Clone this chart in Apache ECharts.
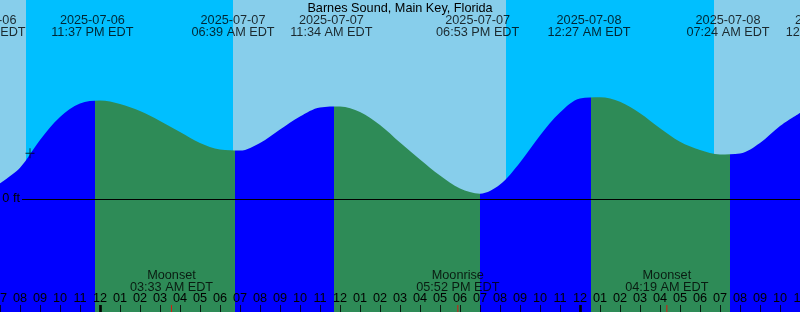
<!DOCTYPE html>
<html>
<head>
<meta charset="utf-8">
<script src="https://cdn.jsdelivr.net/npm/echarts@6/dist/echarts.min.js"></script>
<style>
html,body{margin:0;padding:0;background:#87CEEB;}
#chart{width:800px;height:312px;}
</style>
</head>
<body>
<div id="chart"></div>
<script>
// ---- data (hours relative to 2025-07-07 00:00 EDT, heights in ft) ----
const titleText = 'Barnes Sound, Main Key, Florida';
const hourStart = -5;
const hourEnd = 35;
const hourValues = [0.080, 0.160, 0.302, 0.420, 0.489, 0.505, 0.487, 0.451, 0.400, 0.343,
  0.287, 0.253, 0.248, 0.287, 0.356, 0.423, 0.469, 0.474, 0.446, 0.379,
  0.289, 0.202, 0.120, 0.053, 0.027, 0.074, 0.187, 0.325, 0.443, 0.515,
  0.521, 0.498, 0.439, 0.362, 0.293, 0.251, 0.228, 0.233, 0.287, 0.374, 0.441];
const eventHours = [-5.8, -0.383, 6.65, 11.567, 18.883, 24.45, 31.4, 36.37];
const eventKinds = ['low', 'high', 'low', 'high', 'low', 'high', 'low', 'high'];
const eventDates = ['2025-07-06', '2025-07-06', '2025-07-07', '2025-07-07', '2025-07-07', '2025-07-08', '2025-07-08', '2025-07-08'];
const eventTimes = ['06:12 PM EDT', '11:37 PM EDT', '06:39 AM EDT', '11:34 AM EDT', '06:53 PM EDT', '12:27 AM EDT', '07:24 AM EDT', '12:22 PM EDT'];
const nightStarts = [-3.7, 20.3];
const nightEnds = [6.65, 30.7];
const moonHours = [3.55, 17.867, 28.317];
const moonNames = ['Moonset', 'Moonrise', 'Moonset'];
const moonTimes = ['03:33 AM EDT', '05:52 PM EDT', '04:19 AM EDT'];
const midnightHours = [0, 24];
const markerPoint = [-3.5, 0.234];
const zeroLineStart = -3.9;

// ---- styling ----
const Y_MIN = -0.58, Y_MAX = 1.02;
const FONT = 'Liberation Sans';
const FS = 12.7;
const DAY = '#87CEEB', NIGHT = '#00BFFF', FLOOD = '#0000FF', EBB = '#2E8B57';
const LAG = 0.125;

const curve = hourValues.map((v, i) => [hourStart + i, v]);
const tickHours = hourValues.map((v, i) => hourStart + i);

const bounds = eventHours.map(h => h + LAG);
const pieces = [];
pieces.push({ lt: bounds[0], color: eventKinds[0] === 'low' ? EBB : FLOOD });
for (let i = 0; i < bounds.length - 1; i++) {
  pieces.push({ gte: bounds[i], lt: bounds[i + 1], color: eventKinds[i] === 'low' ? FLOOD : EBB });
}
pieces.push({ gte: bounds[bounds.length - 1], color: eventKinds[bounds.length - 1] === 'low' ? FLOOD : EBB });

const txt = { color: '#000', fontFamily: FONT, fontSize: FS };

const chart = echarts.init(document.getElementById('chart'), null, { renderer: 'canvas' });
chart.setOption({
  animation: false,
  backgroundColor: DAY,
  title: {
    text: titleText, left: 'center', top: 2, padding: 0,
    textStyle: Object.assign({ fontWeight: 'normal', lineHeight: 13 }, txt)
  },
  grid: { left: 0, right: 0, top: 0, bottom: 0, containLabel: false, outerBoundsMode: 'none' },
  xAxis: {
    type: 'value', min: hourStart, max: hourEnd, interval: 1, z: 10,
    axisLine: { show: false, onZero: false },
    splitLine: { show: false },
    axisTick: { show: false },
    axisLabel: Object.assign({
      show: true, inside: true, margin: 8, lineHeight: 12, interval: 0,
      showMinLabel: true, showMaxLabel: true,
      formatter: v => { let h = ((Math.round(v) % 12) + 12) % 12; if (h === 0) h = 12; return String(h).padStart(2, '0'); }
    }, txt)
  },
  yAxis: { type: 'value', min: Y_MIN, max: Y_MAX, show: false, splitLine: { show: false } },
  visualMap: { type: 'piecewise', show: false, dimension: 0, seriesIndex: 1, pieces: pieces },
  series: [
    {
      type: 'line', z: 1, silent: true, data: [[hourStart, 0]], showSymbol: false,
      lineStyle: { opacity: 0 },
      markArea: {
        silent: true,
        itemStyle: { color: NIGHT, opacity: 1 },
        data: nightStarts.map((s, i) => [{ xAxis: s }, { xAxis: nightEnds[i] }])
      }
    },
    {
      type: 'line', z: 3, silent: true, data: curve, smooth: 0.33, showSymbol: false,
      lineStyle: { width: 0 },
      areaStyle: { opacity: 1, origin: 'start' }
    },
    {
      type: 'line', z: 6, silent: true, data: [[hourStart, 0]], showSymbol: false,
      lineStyle: { opacity: 0 },
      markLine: {
        silent: true, symbol: ['none', 'none'], z: 6,
        lineStyle: { color: '#000', width: 1, type: 'solid' },
        label: Object.assign({ show: true, position: 'start', distance: 2, formatter: '0 ft' }, txt),
        data: [[{ coord: [zeroLineStart, 0] }, { coord: [hourEnd, 0] }]]
      }
    },
    {
      type: 'scatter', z: 7, silent: true, clip: false,
      data: eventHours.map(h => [h, Y_MAX]),
      symbolSize: 1, itemStyle: { color: 'transparent' },
      label: Object.assign({
        show: true, position: 'bottom', distance: 14, lineHeight: 12, align: 'center',
        formatter: p => eventDates[p.dataIndex] + '\n' + eventTimes[p.dataIndex]
      }, txt)
    },
    {
      type: 'scatter', z: 11, silent: true, clip: false,
      data: tickHours.map(h => [h, Y_MIN]),
      symbol: 'rect', symbolSize: [1, 14], symbolOffset: [0.5, 0], itemStyle: { color: '#000' }
    },
    {
      type: 'scatter', z: 12, silent: true, clip: false,
      data: moonHours.map(h => [h, Y_MIN]),
      symbol: 'rect', symbolSize: [1, 14], symbolOffset: [0.5, 0], itemStyle: { color: '#FF0000' },
      label: Object.assign({
        show: true, position: 'top', distance: 11.5, lineHeight: 12, align: 'center',
        formatter: p => moonNames[p.dataIndex] + '\n' + moonTimes[p.dataIndex]
      }, txt)
    },
    {
      type: 'scatter', z: 12, silent: true, clip: false,
      data: midnightHours.map(h => [h, Y_MIN]),
      symbol: 'rect', symbolSize: [3, 14], symbolOffset: [0.5, 0], itemStyle: { color: '#000' }
    },
    {
      type: 'scatter', z: 8, silent: true,
      data: [markerPoint],
      symbol: 'path://M0,4.5L10,4.5L10,5.5L0,5.5Z M4.5,0L5.5,0L5.5,10L4.5,10Z', symbolSize: [9, 10],
      itemStyle: { color: '#000' }
    }
  ]
});
</script>
</body>
</html>
